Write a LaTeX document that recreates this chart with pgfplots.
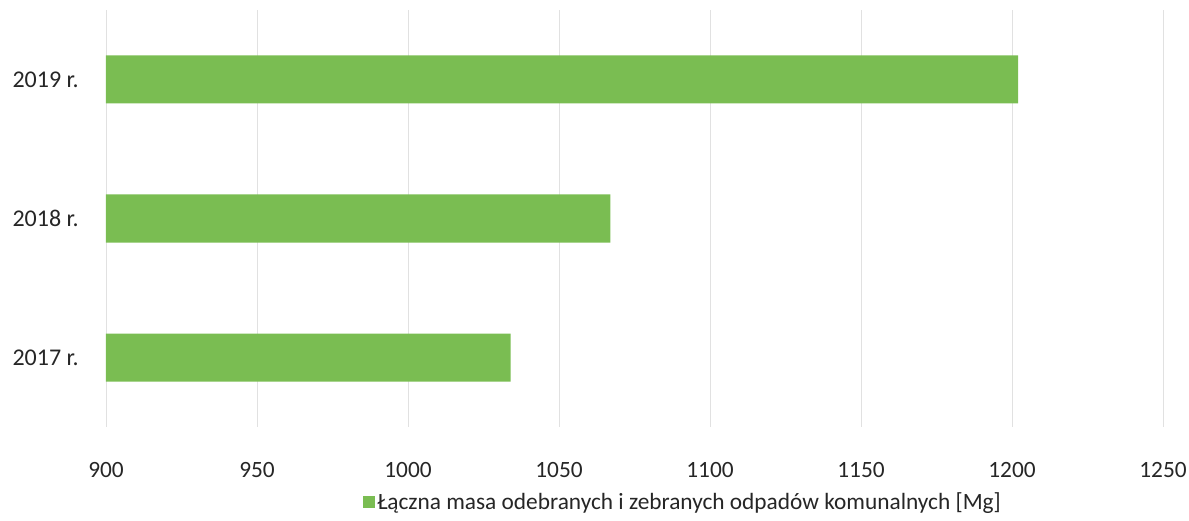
\documentclass[border=0pt]{standalone}
\usepackage{pgfplots}
\pgfplotsset{compat=1.18}
\usepackage{fontspec}
\setmainfont{Carlito}
\definecolor{bargreen}{RGB}{122,189,82}
\definecolor{gridgray}{RGB}{225,225,225}
\begin{document}
\begin{tikzpicture}[x=0.75pt,y=0.75pt]
\useasboundingbox (-106,-94) rectangle (1083,427);
\begin{axis}[
  at={(0,0)}, anchor=south west,
  scale only axis,
  width=792.75pt, height=312.75pt,
  xbar,
  xmin=900, xmax=1250,
  ymin=-0.5, ymax=2.5,
  xtick={900,950,...,1250},
  ytick={0,1,2},
  yticklabels={2017 r.,2018 r.,2019 r.},
  bar width=36pt,
  axis line style={draw=none},
  major tick length=0pt,
  xmajorgrids,
  grid style={gridgray, line width=0.6pt},
  /pgf/number format/assume math mode=true,
  /pgf/number format/1000 sep={},
  tick label style={font=\fontsize{17.5}{20}\selectfont, text=black!85},
  xticklabel style={yshift=-23pt},
  yticklabel style={xshift=-17pt, font=\fontsize{18}{20}\selectfont},
  legend style={draw=none, at={(0.546,-0.18)}, anchor=center,
    font=\fontsize{17.5}{20}\selectfont, text=black!85,
    legend cell align=left},
  legend image code/.code={\fill[bargreen] (0pt,-4.5pt) rectangle (9pt,4.5pt);},
]
\addplot[draw=none, fill=bargreen] coordinates {(1034,0) (1067,1) (1202,2)};
\addlegendentry{Łączna masa odebranych i zebranych odpadów komunalnych [Mg]}
\end{axis}
\end{tikzpicture}
\end{document}
